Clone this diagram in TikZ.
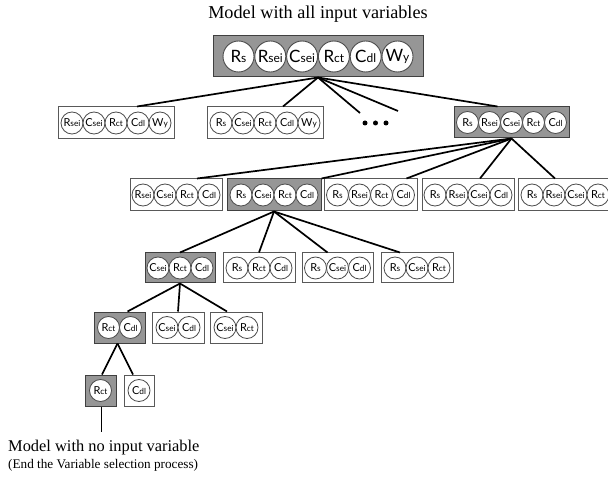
\documentclass[tikz,border=0pt]{standalone}
\usepackage{fontspec}
\setmainfont{Liberation Serif}
\newfontfamily\varfont{Lato}
\definecolor{boxgray}{RGB}{150,150,150}

% variable label: capital letter followed by a smaller suffix
\newcommand\lb[2]{{\fontsize{\vbig}{\vbig}\selectfont #1}{\fontsize{\vsm}{\vsm}\selectfont #2}}
\newcommand\Rs{\lb{R}{s}}
\newcommand\Rsei{\lb{R}{sei}}
\newcommand\Csei{\lb{C}{sei}}
\newcommand\Rct{\lb{R}{ct}}
\newcommand\Cdl{\lb{C}{dl}}
\newcommand\Wy{\lb{W}{y}}

\tikzset{
  selbox/.style={draw=black!75, fill=boxgray, line width=1pt, inner sep=0pt},
  candbox/.style={draw=black!65, fill=white, line width=1pt, inner sep=0pt},
  varbig/.style={circle, draw=black!70, fill=white, line width=0.9pt,
    minimum size=31pt, inner sep=0pt,
    font={\varfont\def\vbig{17pt}\def\vsm{12pt}}},
  varsmall/.style={circle, draw=black!70, fill=white, line width=0.8pt,
    minimum size=22pt, inner sep=0pt,
    font={\varfont\def\vbig{11pt}\def\vsm{8.3pt}}},
  link/.style={line width=1.7pt, black},
  caption/.style={inner sep=0pt}
}

% #1 name, #2 x, #3 y, #4 width, #5 height, #6 box style,
% #7 circle style, #8 circle spacing, #9 list of variables
\newcommand\varbox[9]{%
  \node[#6, minimum width=#4pt, minimum height=#5pt] (#1) at (#2,#3) {};
  \foreach \lab [count=\k] in {#9}{\xdef\nvars{\k}}%
  \foreach \lab [count=\i] in {#9}
    \node[#7] (#1-\i) at ({#2+(\i-(\nvars+1)/2)*#8},#3) {\lab};
}

\begin{document}
\begin{tikzpicture}[x=1pt, y=-1pt]
\useasboundingbox (0,0) rectangle (608,481);

% captions
\node[caption, font=\fontsize{18.2pt}{20pt}\selectfont, anchor=base] (title) at (318,19) {Model with all input variables};
\node[caption, font=\fontsize{16.4pt}{18pt}\selectfont, anchor=base west] (endA) at (8,451.5) {Model with no input variable};
\node[caption, font=\fontsize{13.2pt}{15pt}\selectfont, anchor=base west] (endB) at (8,468) {(End the Variable selection process)};

% full model
\varbox{T}{318}{56.5}{210}{41}{selbox}{varbig}{31.8}{\Rs,\Rsei,\Csei,\Rct,\Cdl,\Wy}

% five-variable models
\varbox{A}{116}{123}{116}{32}{candbox}{varsmall}{22}{\Rsei,\Csei,\Rct,\Cdl,\Wy}
\varbox{B}{265}{123}{116}{32}{candbox}{varsmall}{22}{\Rs,\Csei,\Rct,\Cdl,\Wy}
\varbox{D}{511.5}{122.5}{115}{31}{selbox}{varsmall}{22}{\Rs,\Rsei,\Csei,\Rct,\Cdl}
\foreach \x [count=\j] in {365,375.5,386}
  \node[circle, fill=black, minimum size=5pt, inner sep=0pt] (dot\j) at (\x,123) {};

% four-variable models
\varbox{E}{176}{195}{92}{32}{candbox}{varsmall}{22}{\Rsei,\Csei,\Rct,\Cdl}
\varbox{F}{274}{195}{94}{32}{selbox}{varsmall}{22}{\Rs,\Csei,\Rct,\Cdl}
\varbox{G}{370.5}{195}{93}{32}{candbox}{varsmall}{22}{\Rs,\Rsei,\Rct,\Cdl}
\varbox{H}{468}{195}{92}{32}{candbox}{varsmall}{22}{\Rs,\Rsei,\Csei,\Cdl}
\varbox{I}{565}{195}{94}{32}{candbox}{varsmall}{22}{\Rs,\Rsei,\Csei,\Rct}

% three-variable models
\varbox{J}{180}{268}{70}{30}{selbox}{varsmall}{22}{\Csei,\Rct,\Cdl}
\varbox{K}{259}{268}{72}{30}{candbox}{varsmall}{22}{\Rs,\Rct,\Cdl}
\varbox{L}{337.5}{268}{71}{30}{candbox}{varsmall}{22}{\Rs,\Csei,\Cdl}
\varbox{M}{417}{268}{72}{30}{candbox}{varsmall}{22}{\Rs,\Csei,\Rct}

% two-variable models
\varbox{N}{119.5}{327.5}{51}{31}{selbox}{varsmall}{22}{\Rct,\Cdl}
\varbox{O}{178}{327.5}{52}{31}{candbox}{varsmall}{22}{\Csei,\Cdl}
\varbox{P}{236}{327.5}{52}{31}{candbox}{varsmall}{22}{\Csei,\Rct}

% one-variable models
\varbox{Q}{100.5}{390.5}{31}{31}{selbox}{varsmall}{22}{\Rct}
\varbox{R}{139}{390.5}{30}{31}{candbox}{varsmall}{22}{\Cdl}

% free ends
\coordinate (e1) at (360,113);
\coordinate (e2) at (398,111);
\coordinate (qend) at (101.5,432);

% connectors
\draw[link] (T.south) -- ([xshift=21pt]A.north);
\draw[link] (T.south) -- ([xshift=18pt]B.north);
\draw[link] (T.south) -- (e1);
\draw[link] (T.south) -- (e2);
\draw[link] (T.south) -- ([xshift=-14pt]D.north);

\draw[link] (D.south) -- ([xshift=21pt]E.north);
\draw[link] (D.south) -- (F.north east);
\draw[link] (D.south) -- ([xshift=36pt]G.north);
\draw[link] (D.south) -- ([xshift=12pt]H.north);
\draw[link] (D.south) -- ([xshift=-10pt]I.north);

\draw[link] (F.south) -- (J.north);
\draw[link] (F.south) -- (K.north);
\draw[link] (F.south) -- ([xshift=-10pt]L.north);
\draw[link] (F.south) -- ([xshift=-17pt]M.north);

\draw[link] (J.south) -- ([xshift=8pt]N.north);
\draw[link] (J.south) -- (O.north);
\draw[link] (J.south) -- ([xshift=-9pt]P.north);

\draw[link] ([xshift=-2pt]N.south) -- ([xshift=1.5pt]Q.north);
\draw[link] ([xshift=-2pt]N.south) -- ([xshift=-6pt]R.north);

\draw[link] ([xshift=1pt]Q.south) -- (qend);
\end{tikzpicture}
\end{document}
